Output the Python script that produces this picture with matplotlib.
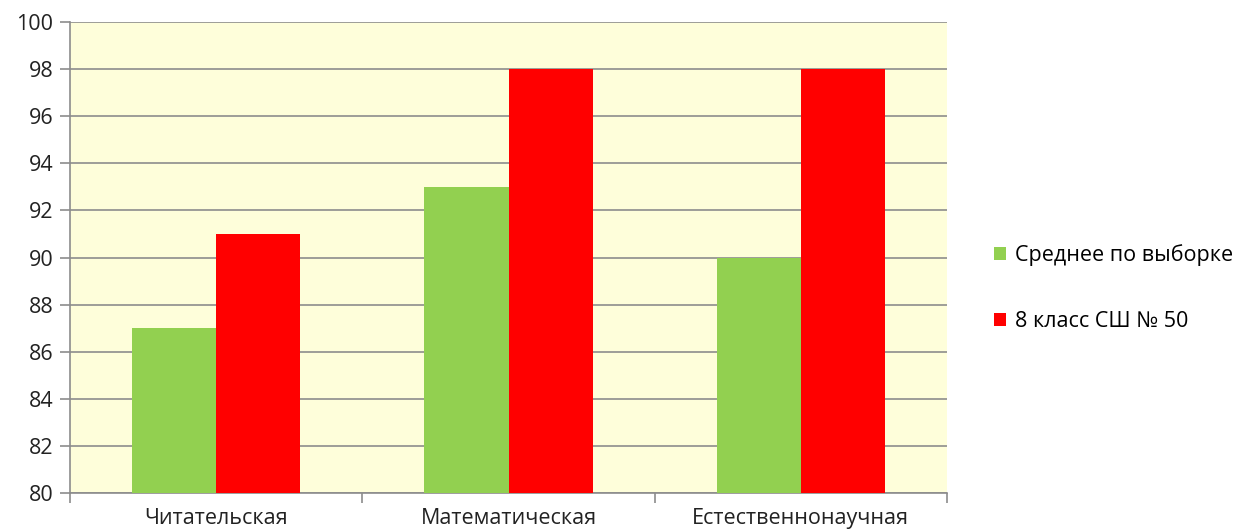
import matplotlib
matplotlib.use("Agg")
import matplotlib.pyplot as plt
import numpy as np
from matplotlib.ticker import FixedLocator

categories = ["Читательская", "Математическая", "Естественнонаучная"]
sample_avg = [87, 93, 90]
school_50 = [91, 98, 98]
series_labels = ["Среднее по выборке", "8 класс СШ № 50"]

plt.rcParams["font.family"] = ["Open Sans", "DejaVu Sans"]

fig = plt.figure(figsize=(12.38, 5.29), dpi=100)
ax = fig.add_axes([70 / 1238, 1 - 493 / 529, 877 / 1238, 471 / 529])
ax.set_facecolor("#FEFEDA")

x = np.arange(len(categories))
w = 0.288
b1 = ax.bar(x - w / 2, sample_avg, w, color="#92D050", zorder=3)
b2 = ax.bar(x + w / 2, school_50, w, color="#FF0000", zorder=3)

ax.set_xlim(-0.5, len(categories) - 0.5)
ax.set_ylim(80, 100)
ax.set_yticks(range(80, 101, 2))
ax.yaxis.grid(True, color="#8C8C8C", linewidth=1.2, zorder=0)

ax.xaxis.set_major_locator(FixedLocator(np.arange(-0.5, len(categories), 1.0)))
ax.set_xticklabels([])
ax.xaxis.set_minor_locator(FixedLocator(x))
ax.set_xticklabels(categories, minor=True)
ax.tick_params(axis="x", which="minor", length=0, pad=11, labelsize=15.5, colors="#222222")
ax.tick_params(axis="x", which="major", length=7, color="#8C8C8C", width=1.2)
ax.tick_params(axis="y", length=7, color="#8C8C8C", width=1.2, labelsize=15.5,
               labelcolor="#222222", pad=5)

for side in ["top", "right"]:
    ax.spines[side].set_visible(False)
for side in ["left", "bottom"]:
    ax.spines[side].set_color("#8C8C8C")
    ax.spines[side].set_linewidth(1.2)

fig.legend([b1, b2], series_labels, loc="center left", bbox_to_anchor=(0.787, 0.455),
           frameon=False, fontsize=15.5, handlelength=0.55, handleheight=0.55,
           handletextpad=0.45, labelspacing=2.1)

fig.savefig("out.png", dpi=100)
